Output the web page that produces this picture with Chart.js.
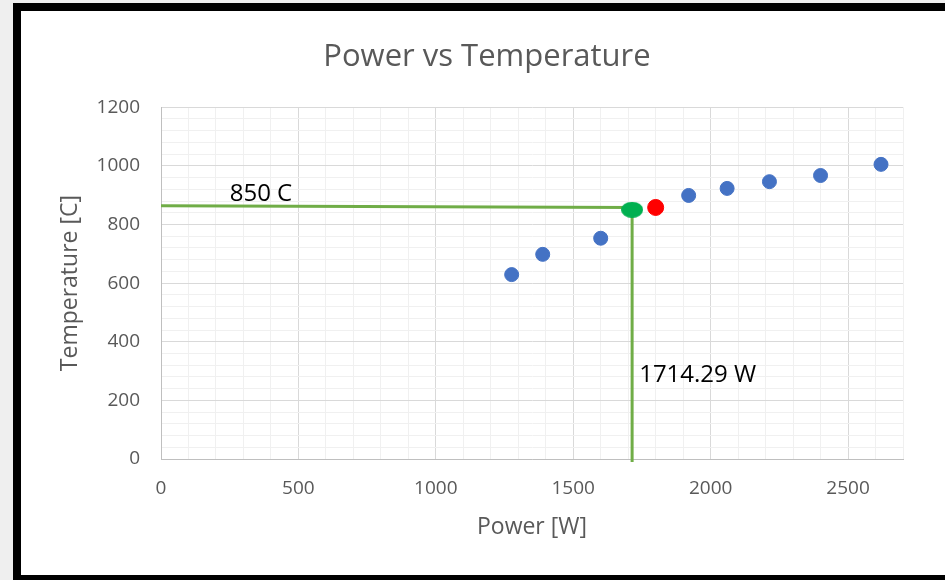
<!DOCTYPE html>
<html>
<head>
<meta charset="utf-8">
<script src="https://cdn.jsdelivr.net/npm/chart.js@4/dist/chart.umd.min.js"></script>
<style>
	html, body { margin: 0; padding: 0; width: 945px; height: 580px; overflow: hidden; background: #efefef; }
	#frame { position: absolute; left: 13px; top: 3px; width: 960px; height: 564px; background: #fff;
		border-top: 8px solid #000; border-left: 8px solid #000; border-bottom: 8px solid #000; }
	#wrap { position: absolute; left: 21px; top: 11px; width: 924px; height: 564px; }
</style>
</head>
<body>
<div id="frame"></div>
<div id="wrap"><canvas id="chart"></canvas></div>
<script>
	// measured points (blue)
	const powerW = [1276, 1389, 1600, 1920, 2060, 2214, 2400, 2620];
	const tempC = [629, 698, 753, 899, 923, 946, 967, 1005];

	// red marker
	const redPower = [1800];
	const redTemp = [858];

	// interpolated operating point (green)
	const opPower = [1714.29];
	const opTemp = [850];

	// guide lines
	const hLinePower = [0, 1714.29];
	const hLineTemp = [864, 858];
	const vLinePower = [1714.29, 1714.29];
	const vLineTemp = [858, -10];

	// text labels on the plot
	const noteTexts = ["850 C", "1714.29 W"];
	const notePower = [250, 1740];
	const noteTemp = [879, 263];

	const xTicksMajor = 500;
	const yTicksMajor = 200;

	const FONT = "'Open Sans', sans-serif";
	const GREY = "#595959";

	function pts(xs, ys) {
		return xs.map((x, i) => ({ x: x, y: ys[i] }));
	}

	// green marker is an ellipse, a bit wider than tall
	const ell = document.createElement("canvas");
	ell.width = 22;
	ell.height = 16;
	const ectx = ell.getContext("2d");
	ectx.fillStyle = "#00B050";
	ectx.beginPath();
	ectx.ellipse(11, 8, 11, 8, 0, 0, Math.PI * 2);
	ectx.fill();

	const notesPlugin = {
		id: "notes",
		afterDatasetsDraw(chart) {
			const { ctx, scales } = chart;
			ctx.save();
			ctx.font = "24px " + FONT;
			ctx.fillStyle = "#000";
			ctx.textAlign = "left";
			ctx.textBaseline = "alphabetic";
			noteTexts.forEach((t, i) => {
				ctx.fillText(t, scales.x.getPixelForValue(notePower[i]), scales.y.getPixelForValue(noteTemp[i]));
			});
			ctx.restore();
		},
	};

	const ctx = document.getElementById("chart");
	new Chart(ctx, {
		type: "scatter",
		data: {
			datasets: [
				{
					data: pts(opPower, opTemp),
					pointStyle: ell,
					order: 0,
				},
				{
					data: pts(redPower, redTemp),
					backgroundColor: "#FF0000",
					borderColor: "#FF0000",
					pointRadius: 8,
					order: 1,
				},
				{
					data: pts(powerW, tempC),
					backgroundColor: "#4472C4",
					borderColor: "#4472C4",
					pointRadius: 7,
					order: 2,
				},
				{
					data: pts(hLinePower, hLineTemp),
					showLine: true,
					borderColor: "#70AD47",
					borderWidth: 3,
					pointRadius: 0,
					order: 3,
				},
				{
					data: pts(vLinePower, vLineTemp),
					showLine: true,
					borderColor: "#70AD47",
					borderWidth: 3,
					pointRadius: 0,
					clip: false,
					order: 4,
				},
			],
		},
		options: {
			responsive: true,
			maintainAspectRatio: false,
			animation: false,
			// left padding shifts the chart title to the right, y axis is narrowed to match
			layout: { padding: { left: 50, top: 0, right: 42, bottom: 0 } },
			plugins: {
				legend: { display: false },
				tooltip: { enabled: false },
				title: {
					display: true,
					text: "Power vs Temperature",
					color: GREY,
					font: { family: FONT, size: 31, weight: "normal" },
					padding: { top: 28, bottom: 31 },
				},
			},
			scales: {
				x: {
					type: "linear",
					min: 0,
					max: 2700,
					afterFit: (s) => { s.height = 116; },
					border: { color: "#bfbfbf" },
					grid: {
						drawTicks: false,
						color: (c) => (c.tick && c.tick.value % xTicksMajor === 0 ? "#d9d9d9" : "#f0f0f0"),
					},
					ticks: {
						stepSize: 100,
						autoSkip: false,
						maxRotation: 0,
						padding: 18,
						color: GREY,
						font: { family: FONT, size: 19 },
						callback: (v) => (v % xTicksMajor === 0 ? v : ""),
					},
					title: {
						display: true,
						text: "Power [W]",
						color: GREY,
						font: { family: FONT, size: 23 },
						padding: { top: 0, bottom: 34 },
					},
				},
				y: {
					min: 0,
					max: 1200,
					afterFit: (s) => { s.width = 90; },
					border: { color: "#bfbfbf" },
					grid: {
						drawTicks: false,
						color: (c) => (c.tick && c.tick.value % yTicksMajor === 0 ? "#d9d9d9" : "#f0f0f0"),
					},
					ticks: {
						stepSize: 40,
						autoSkip: false,
						padding: 21,
						color: GREY,
						font: { family: FONT, size: 19 },
						callback: (v) => (v % yTicksMajor === 0 ? v : ""),
					},
					title: {
						display: true,
						text: "Temperature [C]",
						color: GREY,
						font: { family: FONT, size: 23 },
						padding: { top: -14, bottom: 0 },
					},
				},
			},
		},
		plugins: [notesPlugin],
	});
</script>
</body>
</html>
